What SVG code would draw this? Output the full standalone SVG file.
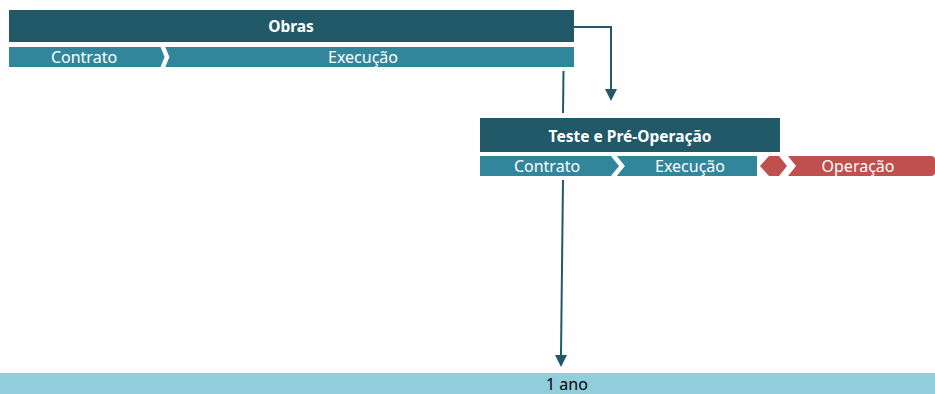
<svg xmlns="http://www.w3.org/2000/svg" width="935" height="394" viewBox="0 0 935 394">
<defs>
<style>
.hdr{fill:#215968}
.seg{fill:#31869B}
.red{fill:#C0504D}
.chev{fill:none;stroke:#FFFFFF;stroke-width:4.5}
.t{font-family:"Noto Sans","Open Sans",sans-serif;font-size:16px;fill:#FFFFFF;text-anchor:middle}
.b{font-weight:bold;font-size:15.5px}
.con{fill:none;stroke:#215968;stroke-width:2}
</style>
</defs>
<rect width="935" height="394" fill="#FFFFFF"/>
<g id="obras">
<rect class="hdr" x="9" y="10" width="565" height="32"/>
<text class="t b" x="291" y="32">Obras</text>
<rect class="seg" x="9" y="47" width="565" height="20"/>
<polyline class="chev" points="162.5,46 167,57 162.5,68"/>
<text class="t" x="84" y="63">Contrato</text>
<text class="t" x="363" y="63">Execução</text>
</g>
<g id="teste">
<rect class="hdr" x="480" y="118" width="300" height="34"/>
<text class="t b" x="630" y="141.5">Teste e Pré-Operação</text>
<rect class="seg" x="480" y="156" width="277" height="20"/>
<polyline class="chev" points="613,155 622,166 613,177"/>
<polygon class="red" points="760,166 769,156 779,156 787,166 779,176 769,176"/>
<path class="red" d="M788,156 L931,156 Q935,156 935,160 L935,172 Q935,176 931,176 L788,176 L796,166 Z"/>
<text class="t" x="547" y="172">Contrato</text>
<text class="t" x="690" y="172">Execução</text>
<text class="t" x="858" y="172">Operação</text>
</g>
<g id="ano">
<rect x="0" y="373" width="935" height="21" fill="#92CDDC"/>
<text class="t" x="567" y="390" style="fill:#000000">1 ano</text>
</g>
<g id="connectors">
<polyline class="con" points="574,27 611,27 611,89"/>
<path d="M605,89 L617,89 L611,101 Z" fill="#215968"/>
<line class="con" x1="563.5" y1="71" x2="563" y2="113"/>
<line class="con" x1="563" y1="180" x2="561" y2="355"/>
<path d="M555,355 L567,355 L561,367 Z" fill="#215968"/>
</g>
</svg>
